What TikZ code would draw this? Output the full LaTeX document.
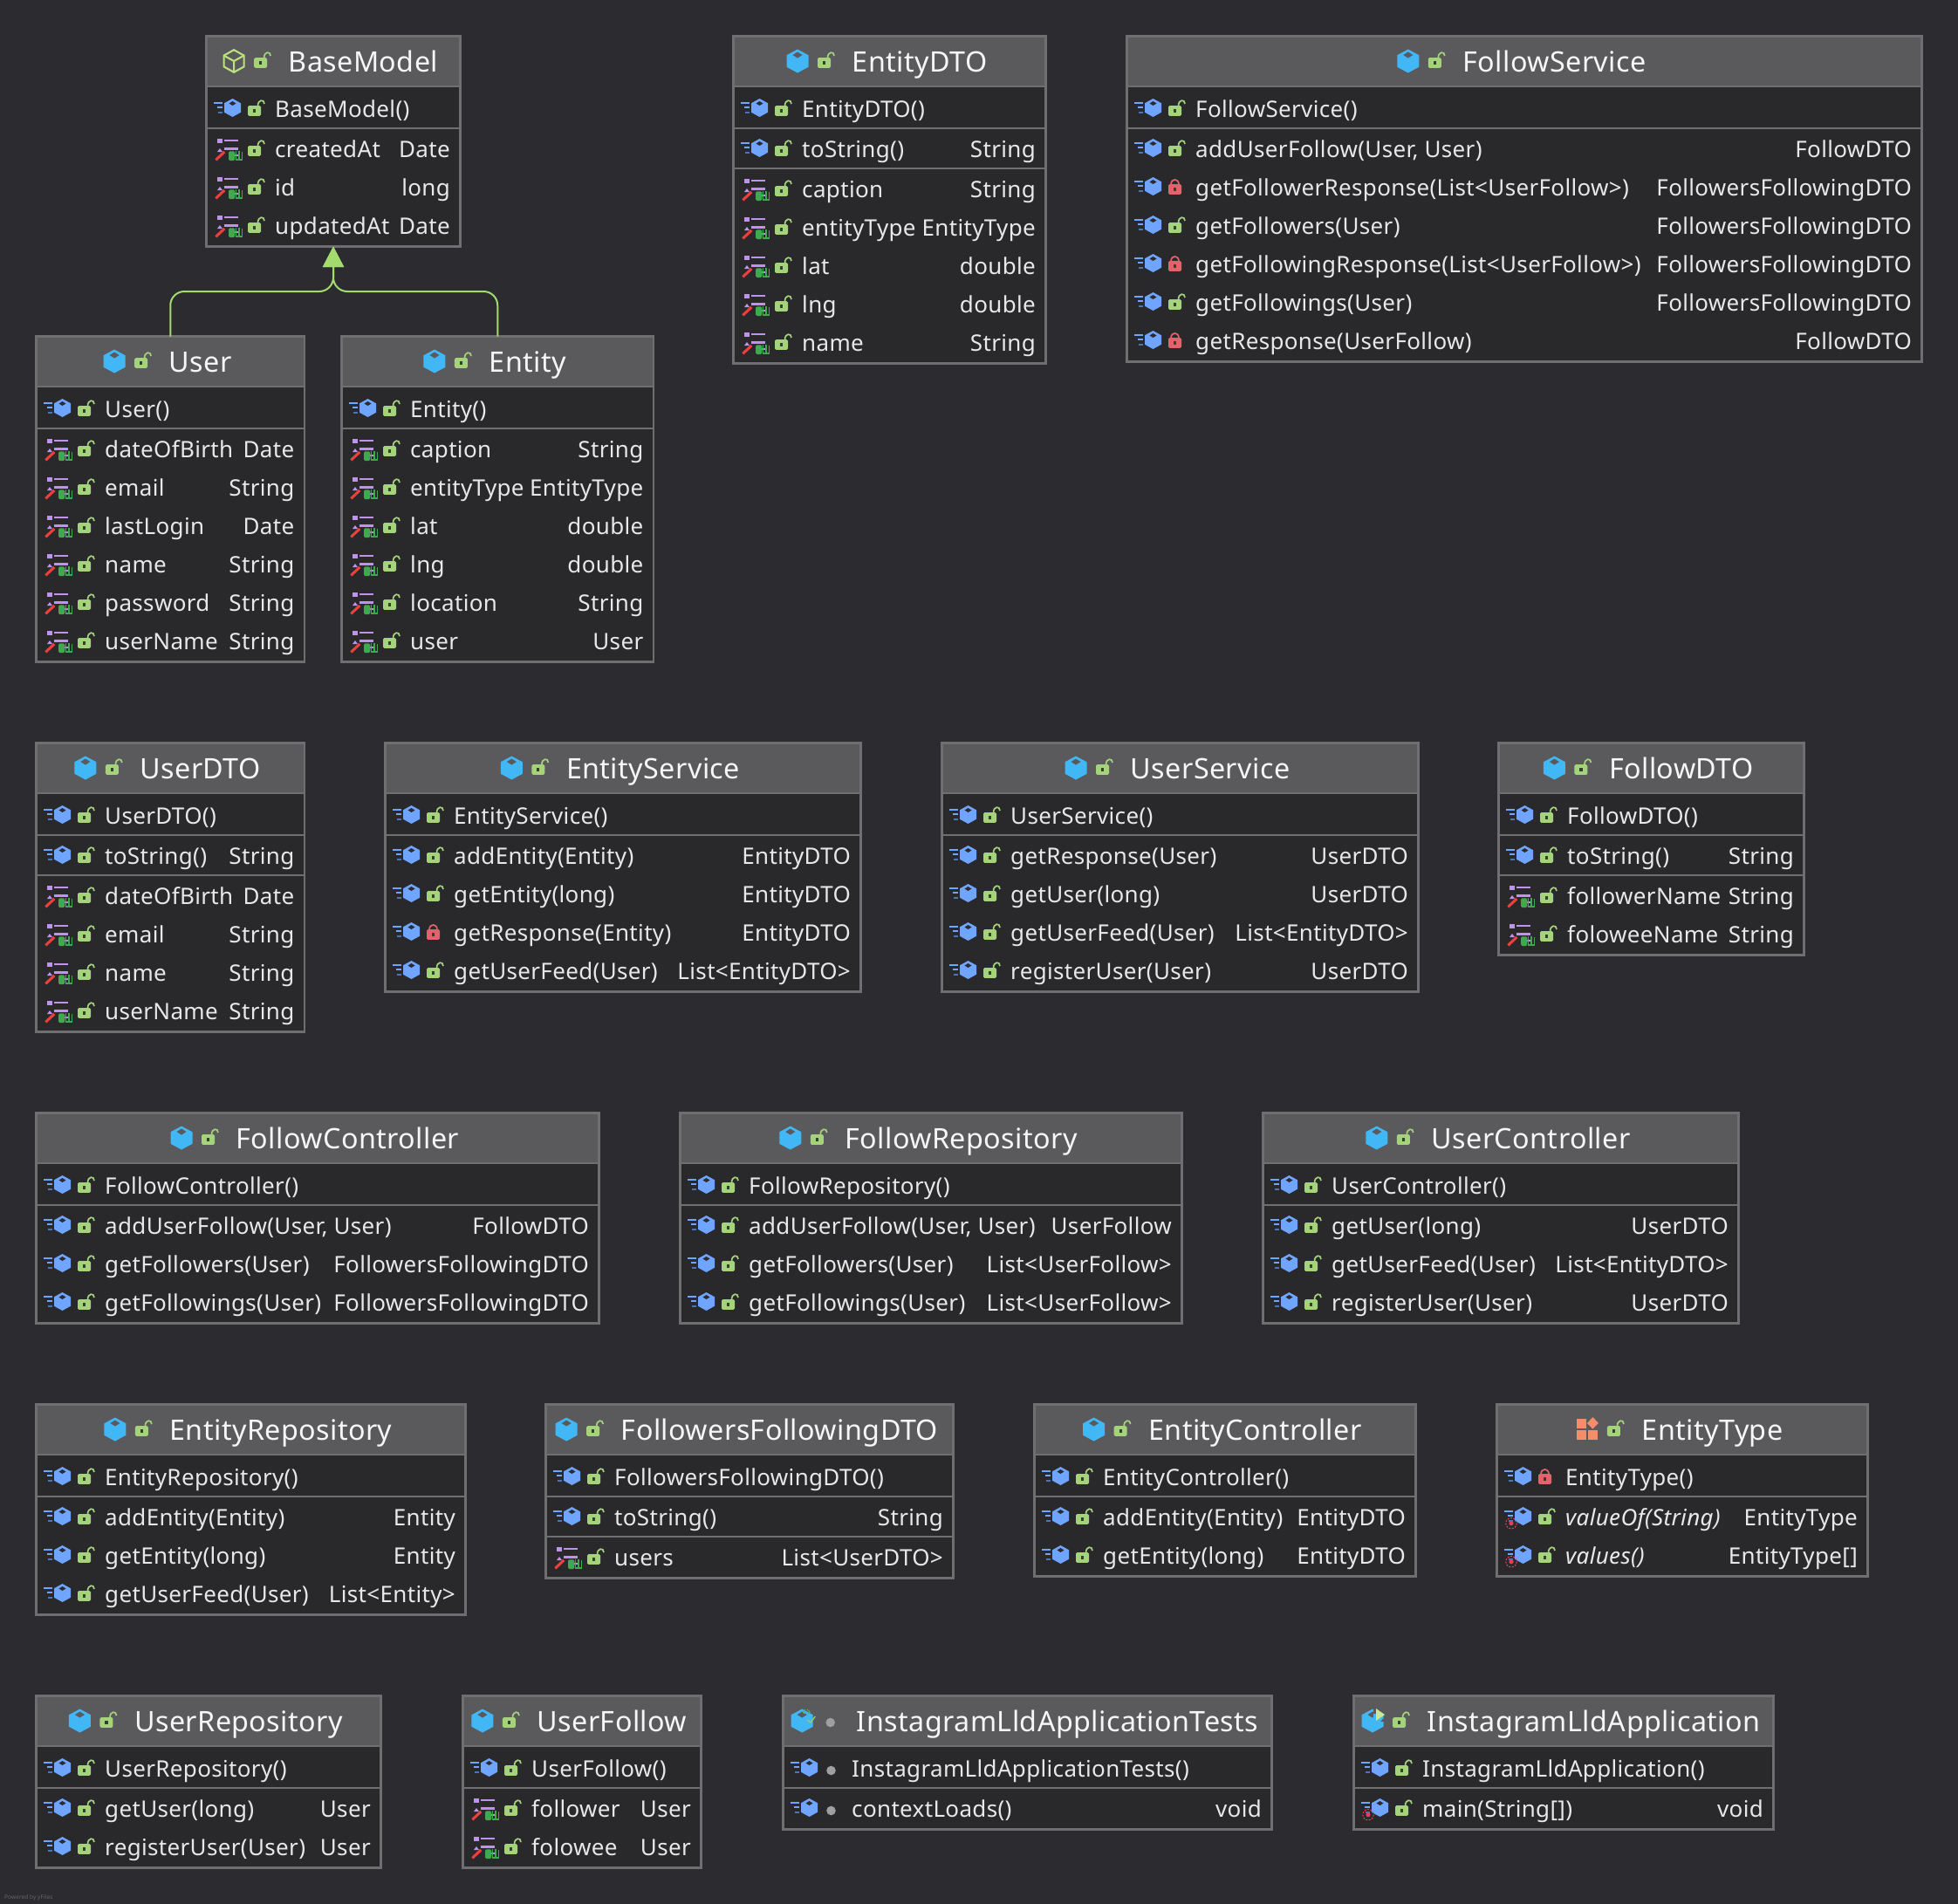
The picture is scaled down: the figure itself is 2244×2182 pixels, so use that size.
\documentclass[tikz,border=0pt]{standalone}
\usepackage{fontspec}
\setmainfont[LetterSpace=1.3]{Noto Sans}
\usetikzlibrary{arrows.meta}
\definecolor{pagebg}{HTML}{2C2B2F}
\definecolor{boxbg}{HTML}{29292B}
\definecolor{hdrbg}{HTML}{5A595C}
\definecolor{boxline}{HTML}{6F6E71}
\definecolor{rowtxt}{HTML}{E8E8E8}
\definecolor{ttltxt}{HTML}{F6F6F6}
\definecolor{hexm}{HTML}{6FA5FF}
\definecolor{hexc}{HTML}{41B7F6}
\definecolor{lockg}{HTML}{A5D37C}
\definecolor{lockr}{HTML}{E2636B}
\definecolor{lockk}{HTML}{34402A}
\definecolor{grn}{HTML}{A3DB6E}
\definecolor{absg}{HTML}{BBE27E}
\definecolor{enumo}{HTML}{F78C68}
\definecolor{fpur}{HTML}{BE93EC}
\definecolor{fred}{HTML}{F0403C}
\definecolor{fgrn}{HTML}{3FA950}
\definecolor{statr}{HTML}{F0385C}
\definecolor{faint}{HTML}{666666}
\newcommand\rowfont{\fontsize{26}{30}\selectfont}
\newcommand\ttlfont{\fontsize{32.3}{36}\selectfont}
\tikzset{
  clsbox/.style={draw=boxline,fill=boxbg,line width=2.3pt,inner sep=0pt,outer sep=0pt,anchor=north west},
  rowname/.style={anchor=base west,inner sep=0pt,text=rowtxt,font=\rowfont},
  rowtype/.style={anchor=base east,inner sep=0pt,text=rowtxt,font=\rowfont},
  ttlnode/.style={anchor=base,inner sep=0pt,text=ttltxt,font=\ttlfont},
  inherit/.style={draw=grn,line width=2pt,-{Triangle[length=23.5pt,width=24pt,fill=grn]}},
}
% ---------- icons, origin at given point
\newcommand\icOpen[2]{\begin{scope}[shift={(#1,#2)}]
  \fill[lockg,rounded corners=1.5pt] (-7.5,-5.8) rectangle (7.5,5.8);
  \draw[lockg,line width=1.7pt] (4,-5.5) .. controls (4,-13.5) and (11.5,-13.5) .. (11.5,-8);
  \fill[lockk] (-1.6,-1.6) rectangle (1.6,1.6);
\end{scope}}
\newcommand\icPriv[2]{\begin{scope}[shift={(#1,#2)}]
  \fill[lockr,rounded corners=1.5pt] (-7.5,-5.8) rectangle (7.5,5.8);
  \draw[lockr,line width=1.7pt] (-4.5,-5.5) .. controls (-4.5,-13) and (4.5,-13) .. (4.5,-5.5);
  \fill[lockk] (-1.6,-1.6) rectangle (1.6,1.6);
\end{scope}}
\newcommand\icPack[2]{\fill[gray!75] (#1,#2) circle (5.3);}
\newcommand\hexa[5]{% x y halfw halfh colour
  \fill[#5] (#1,#2-#4) -- (#1+#3,#2-0.5*#4) -- (#1+#3,#2+0.5*#4) -- (#1,#2+#4) -- (#1-#3,#2+0.5*#4) -- (#1-#3,#2-0.5*#4) -- cycle;}
\newcommand\icMeth[2]{\begin{scope}[shift={(#1,#2)}]
  \hexa{0}{0}{9.5}{10.5}{hexm}
  \fill[pagebg] (-4,-5) -- (0,-7.5) -- (4,-5) -- (0,-2.5) -- cycle;
  \fill[hexm] (-21.5,-7) rectangle (-11.5,-5);
  \fill[hexm] (-18,-1.3) rectangle (-11.5,0.7);
  \fill[hexm!70!black] (-16.5,4.3) rectangle (-11.5,6.3);
\end{scope}}
\newcommand\icStat[2]{\begin{scope}[shift={(#1,#2)}]
  \fill[statr] (0,0) circle (2.6);
  \draw[statr,line width=1.1pt,dash pattern=on 2pt off 1.5pt] (0,0) circle (6.2);
\end{scope}}
\newcommand\icField[2]{\begin{scope}[shift={(#1,#2)}]
  \fill[fpur] (13,-12) rectangle (19,-6.7);
  \fill[fpur] (20.7,-11) rectangle (37.3,-8.7);
  \fill[fpur] (20.7,-1.7) rectangle (37.3,0.7);
  \fill[fpur] (13,3) -- (16,-1) -- (19,3) -- cycle;
  \fill[fpur] (28,6) rectangle (37,8);
  \draw[fred,line width=3pt] (11.3,12.3) -- (21.3,3);
  \fill[fgrn,rounded corners=1.5pt] (26,2.3) rectangle (33.3,13);
  \draw[fgrn,line width=1.1pt] (34.5,1.7) -- (34.5,12) -- (41.3,12) -- (41.3,2.5) (38,1.7) -- (38,11);
\end{scope}}
\newcommand\icClsPlain[2]{%
  \hexa{#1}{#2}{12.5}{13.5}{hexc}
  \fill[hdrbg] (#1-5.5,#2-7) -- (#1,#2-10.5) -- (#1+5.5,#2-7) -- (#1,#2-3.5) -- cycle;}
\newcommand\icClsAbs[2]{\begin{scope}[shift={(#1,#2)}]
  \draw[absg,line width=2.1pt,line join=miter] (0,-12.8) -- (11.5,-6.4) -- (11.5,6.4) -- (0,12.8) -- (-11.5,6.4) -- (-11.5,-6.4) -- cycle;
  \draw[absg,line width=2.1pt] (-11.5,-6.4) -- (0,0) -- (11.5,-6.4) (0,0) -- (0,12.8);
\end{scope}}
\newcommand\icClsEnum[2]{\begin{scope}[shift={(#1,#2)}]
  \fill[enumo] (-12,-12) rectangle (-1,-1);
  \fill[enumo] (-12,1) rectangle (-1,12);
  \fill[enumo] (1,1) rectangle (12,12);
  \fill[enumo] (6.5,-14) -- (13,-7) -- (6.5,-0.5) -- (0,-7) -- cycle;
\end{scope}}
\newcommand\icClsRun[2]{\icClsPlain{#1}{#2}
  \fill[hdrbg] (#1+1,#2-15) rectangle (#1+14,#2+1);
  \fill[hexc] (#1+1,#2-8) -- (#1+1,#2+1) -- (#1+9,#2+1) -- (#1+12.5,#2-3) -- (#1+12.5,#2-7) -- cycle;
  \fill[absg!80!white] (#1+4,#2-14) -- (#1+14,#2-7) -- (#1+4,#2) -- cycle;}
\newcommand\icClsTest[2]{\icClsPlain{#1}{#2}
  \draw[fgrn!90!white,line width=1pt] (#1+3,#2-8) -- (#1+1,#2-10) -- (#1+4,#2-13) (#1+6,#2-13) -- (#1+9,#2-10) -- (#1+7,#2-8);
  \draw[grn!80!fgrn,line width=1.3pt] (#1+6,#2-1) -- (#1+10,#2+2) -- (#1+15,#2-5);}
\newcommand\hdrlockPlain{\icOpen{-32}{-10}}
\newcommand\hdrlockAbs{\icOpen{-32}{-10}}
\newcommand\hdrlockEnum{\icOpen{-32}{-10}}
\newcommand\hdrlockRun{\icOpen{-32}{-10}}
\newcommand\hdrlockTest{\icPack{-30}{-10}}
% ---------- class
\newcounter{rowno}
\newcommand\cls[7]{% name x0 x1 y0 y1 icon title
  \xdef\Xa{#2}\xdef\Xb{#3}\pgfmathsetmacro\Yc{#4+84}\xdef\Yc{\Yc}%
  \pgfmathsetmacro\bw{#3-#2-1}\pgfmathsetmacro\bh{#5-#4-1}%
  \node[clsbox,minimum width=\bw pt,minimum height=\bh pt] (#1) at ({#2+0.5},{#4+0.5}) {};
  \fill[hdrbg] ({#2+1.6},{#4+1.6}) rectangle ({#3-1.6},{#4+56.5});
  \draw[boxline,line width=2.6pt] ({#2+0.5},{#4+58}) -- ({#3-0.5},{#4+58});
  \pgfmathsetmacro\tx{0.5*(#2+#3)+34.5}%
  \pgfmathsetmacro\ty{#4+41}%
  \node[ttlnode] (#1-title) at (\tx,\ty) {#7};
  \begin{scope}[shift={(#1-title.base west)}]
    \csname icCls#6\endcsname{-62.5}{-12}
    \csname hdrlock#6\endcsname
  \end{scope}
}
% kind (M method, F field, S static), vis (O open, P private, K package)
\newcommand\rowitem[5][]{%
  \stepcounter{rowno}%
  \pgfmathsetmacro\rb{\Yc+9.6}\pgfmathsetmacro\nx{\Xa+79}\pgfmathsetmacro\tyx{\Xb-12}%
  \pgfmathsetmacro\mx{\Xa+30.5}\pgfmathsetmacro\my{\Yc-1.5}%
  \pgfmathsetmacro\vx{\Xa+55.5}\pgfmathsetmacro\vy{\Yc+2}%
  \pgfmathsetmacro\sx{\Xa+17}\pgfmathsetmacro\sy{\Yc+6.7}%
  \if#2M\icMeth{\mx}{\my}\fi
  \if#2S\icMeth{\mx}{\my}\icStat{\sx}{\sy}\fi
  \if#2F\icField{\Xa}{\Yc}\fi
  \if#3O\icOpen{\vx}{\vy}\fi
  \if#3P\icPriv{\vx}{\vy}\fi
  \if#3K\icPack{\vx}{\vy}\fi
  \node[rowname] (r\therowno a) at (\nx,\rb) {#1#4};
  \if\relax\detokenize{#5}\relax\else\node[rowtype] (r\therowno b) at (\tyx,\rb) {#5};\fi
  \pgfmathsetmacro\Yn{\Yc+44}\xdef\Yc{\Yn}%
}
\newcommand\sepl{%
  \pgfmathsetmacro\Ys{\Yc-22}%
  \draw[boxline,line width=2.4pt] ({\Xa+0.5},\Ys) -- ({\Xb-0.5},\Ys);
  \pgfmathsetmacro\Yn{\Yc+2}\xdef\Yc{\Yn}%
}
\newcommand\rM[2]{\rowitem{M}{O}{#1}{#2}}
\newcommand\rP[2]{\rowitem{M}{P}{#1}{#2}}
\newcommand\rF[2]{\rowitem{F}{O}{#1}{#2}}
\begin{document}
\begin{tikzpicture}[x=1pt,y=-1pt]
\fill[pagebg] (0,0) rectangle (2244,2182);
\useasboundingbox (0,0) rectangle (2244,2182);

\cls{BaseModel}{236}{528}{41}{283}{Abs}{BaseModel}
\rM{BaseModel()}{}\sepl
\rF{createdAt}{Date}\rF{id}{long}\rF{updatedAt}{Date}

\cls{EntityDTO}{840}{1199}{41}{417}{Plain}{EntityDTO}
\rM{EntityDTO()}{}\sepl
\rM{toString()}{String}\sepl
\rF{caption}{String}\rF{entityType}{EntityType}\rF{lat}{double}\rF{lng}{double}\rF{name}{String}

\cls{FollowService}{1291}{2203}{41}{415}{Plain}{FollowService}
\rM{FollowService()}{}\sepl
\rM{addUserFollow(User, User)}{FollowDTO}
\rP{getFollowerResponse(List<UserFollow>)}{FollowersFollowingDTO}
\rM{getFollowers(User)}{FollowersFollowingDTO}
\rP{getFollowingResponse(List<UserFollow>)}{FollowersFollowingDTO}
\rM{getFollowings(User)}{FollowersFollowingDTO}
\rP{getResponse(UserFollow)}{FollowDTO}

\cls{User}{41}{349.5}{385}{759}{Plain}{User}
\rM{User()}{}\sepl
\rF{dateOfBirth}{Date}\rF{email}{String}\rF{lastLogin}{Date}\rF{name}{String}\rF{password}{String}\rF{userName}{String}

\cls{Entity}{391}{749.5}{385}{759}{Plain}{Entity}
\rM{Entity()}{}\sepl
\rF{caption}{String}\rF{entityType}{EntityType}\rF{lat}{double}\rF{lng}{double}\rF{location}{String}\rF{user}{User}

\cls{UserDTO}{41}{349.5}{851}{1183}{Plain}{UserDTO}
\rM{UserDTO()}{}\sepl
\rM{toString()}{String}\sepl
\rF{dateOfBirth}{Date}\rF{email}{String}\rF{name}{String}\rF{userName}{String}

\cls{EntityService}{441}{987}{851}{1137}{Plain}{EntityService}
\rM{EntityService()}{}\sepl
\rM{addEntity(Entity)}{EntityDTO}\rM{getEntity(long)}{EntityDTO}\rP{getResponse(Entity)}{EntityDTO}\rM{getUserFeed(User)}{List<EntityDTO>}

\cls{UserService}{1079}{1626}{851}{1137}{Plain}{UserService}
\rM{UserService()}{}\sepl
\rM{getResponse(User)}{UserDTO}\rM{getUser(long)}{UserDTO}\rM{getUserFeed(User)}{List<EntityDTO>}\rM{registerUser(User)}{UserDTO}

\cls{FollowDTO}{1717}{2068}{851}{1095}{Plain}{FollowDTO}
\rM{FollowDTO()}{}\sepl
\rM{toString()}{String}\sepl
\rF{followerName}{String}\rF{foloweeName}{String}

\cls{FollowController}{41}{687}{1275}{1517}{Plain}{FollowController}
\rM{FollowController()}{}\sepl
\rM{addUserFollow(User, User)}{FollowDTO}\rM{getFollowers(User)}{FollowersFollowingDTO}\rM{getFollowings(User)}{FollowersFollowingDTO}

\cls{FollowRepository}{779}{1355}{1275}{1517}{Plain}{FollowRepository}
\rM{FollowRepository()}{}\sepl
\rM{addUserFollow(User, User)}{UserFollow}\rM{getFollowers(User)}{List<UserFollow>}\rM{getFollowings(User)}{List<UserFollow>}

\cls{UserController}{1447}{1993}{1275}{1517}{Plain}{UserController}
\rM{UserController()}{}\sepl
\rM{getUser(long)}{UserDTO}\rM{getUserFeed(User)}{List<EntityDTO>}\rM{registerUser(User)}{UserDTO}

\cls{EntityRepository}{41}{534}{1609}{1851}{Plain}{EntityRepository}
\rM{EntityRepository()}{}\sepl
\rM{addEntity(Entity)}{Entity}\rM{getEntity(long)}{Entity}\rM{getUserFeed(User)}{List<Entity>}

\cls{FollowersFollowingDTO}{625}{1093}{1609}{1809}{Plain}{FollowersFollowingDTO}
\rM{FollowersFollowingDTO()}{}\sepl
\rM{toString()}{String}\sepl
\rF{users}{List<UserDTO>}

\cls{EntityController}{1185}{1623}{1609}{1807}{Plain}{EntityController}
\rM{EntityController()}{}\sepl
\rM{addEntity(Entity)}{EntityDTO}\rM{getEntity(long)}{EntityDTO}

\cls{EntityType}{1715}{2141}{1609}{1807}{Enum}{EntityType}
\rowitem{M}{P}{EntityType()}{}\sepl
\rowitem[\itshape]{S}{O}{valueOf(String)}{EntityType}
\rowitem[\itshape]{S}{O}{values()}{EntityType[]}

\cls{UserRepository}{41}{437}{1943}{2141}{Plain}{UserRepository}
\rM{UserRepository()}{}\sepl
\rM{getUser(long)}{User}\rM{registerUser(User)}{User}

\cls{UserFollow}{530}{804}{1943}{2141}{Plain}{UserFollow}
\rM{UserFollow()}{}\sepl
\rF{follower}{User}\rF{folowee}{User}

\cls{InstagramLldApplicationTests}{897}{1458}{1943}{2097}{Test}{InstagramLldApplicationTests}
\rowitem{M}{K}{InstagramLldApplicationTests()}{}\sepl
\rowitem{M}{K}{contextLoads()}{void}

\cls{InstagramLldApplication}{1551}{2033}{1943}{2097}{Run}{InstagramLldApplication}
\rM{InstagramLldApplication()}{}\sepl
\rowitem{S}{O}{main(String[])}{void}

% inheritance
\coordinate (bus) at (382,334);
\draw[inherit,rounded corners=16pt] (User.north) -- (bus -| User.north) -- (bus) -- (BaseModel.south);
\draw[inherit,rounded corners=16pt] (Entity.north) -- (bus -| Entity.north) -- (bus) -- (BaseModel.south);

\node[anchor=base west,inner sep=0pt,text=faint,font=\fontsize{6.5}{7}\selectfont] (yfiles) at (5,2176.5) {Powered by yFiles};
\end{tikzpicture}
\end{document}
